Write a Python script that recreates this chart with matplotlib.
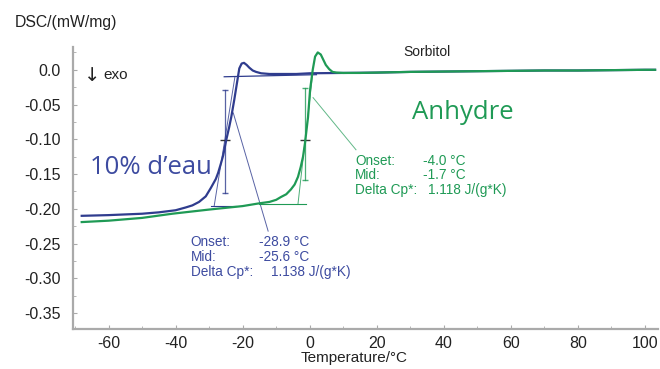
import numpy as np
import matplotlib.pyplot as plt
from matplotlib.ticker import MultipleLocator

plt.rcParams['axes.unicode_minus'] = False

# DSC curves
blue_T = [-68, -60, -50, -45, -40, -37, -35, -33, -31, -29.5, -28, -27.3, -26.5, -25.8,
          -24.9, -24, -23.4, -22.5, -21.6, -21, -20.3, -19.6, -18.8, -18, -17, -16,
          -14.5, -12, -8, -4, 0, 10, 20, 30, 40, 50, 60, 70, 80, 90, 100, 103]
blue_dsc = [-0.210, -0.209, -0.207, -0.205, -0.202, -0.198, -0.195, -0.190, -0.182, -0.170,
            -0.157, -0.148, -0.135, -0.123, -0.101, -0.082, -0.068, -0.043, -0.016, 0.002,
            0.009, 0.010, 0.007, 0.003, -0.001, -0.003, -0.005, -0.006, -0.006, -0.006,
            -0.005, -0.0045, -0.004, -0.003, -0.0025, -0.002, -0.0015, -0.001, -0.001,
            -0.0005, 0.0, 0.0]

green_T = [-68, -60, -50, -41, -30, -20, -15, -12, -10, -8.6, -7, -5.6, -4.5, -3.5, -2.7,
           -2.0, -1.4, -0.5, 0.1, 0.9, 1.6, 2.4, 3.3, 4.0, 4.8, 5.8, 6.8, 8, 10, 15, 20,
           30, 40, 50, 60, 70, 80, 90, 100, 103]
green_dsc = [-0.219, -0.217, -0.213, -0.207, -0.201, -0.196, -0.192, -0.190, -0.187, -0.183,
             -0.179, -0.172, -0.165, -0.154, -0.140, -0.125, -0.105, -0.068, -0.029, 0.000,
             0.019, 0.025, 0.022, 0.015, 0.007, 0.001, -0.003, -0.004, -0.0045, -0.0045,
             -0.004, -0.003, -0.0025, -0.002, -0.0015, -0.001, -0.001, -0.0005, 0.0, 0.0]

# glass transition evaluation (onset, mid, delta cp)
blue_eval = ["-28.9 °C", "-25.6 °C", "1.138 J/(g*K)"]
green_eval = ["-4.0 °C", "-1.7 °C", "1.118 J/(g*K)"]
eval_names = ["Onset:", "Mid:", "Delta Cp*:"]

c_blue = '#2f3c8e'
c_blue_txt = '#3d4ba0'
c_green = '#1f9a55'
c_grey = '#aaaaaa'
c_txt = '#222222'

fig = plt.figure(figsize=(6.6, 3.69), dpi=100)
ax = fig.add_axes([0.1106, 0.108, 0.886, 0.765])

ax.plot(blue_T, blue_dsc, color=c_blue, lw=1.6, zorder=3)
ax.plot(green_T, green_dsc, color=c_green, lw=1.6, zorder=3)

# construction lines, blue
ax.plot([-25.5, 2], [-0.010, -0.007], color=c_blue, lw=0.9)
ax.plot([-29.3, -22.0], [-0.196, -0.196], color=c_blue, lw=0.8)
ax.plot([-28.5, -22.3], [-0.196, -0.010], color=c_blue, lw=0.7, alpha=0.8)
ax.plot([-25.2, -25.2], [-0.029, -0.177], color=c_blue, lw=0.9, alpha=0.8,
        marker='_', markersize=5)
ax.plot([-25.2], [-0.101], color='#333333', marker='_', markersize=7, mew=1)
ax.plot([-22.8, -12.4], [-0.062, -0.232], color=c_blue, lw=0.7, alpha=0.8)

# construction lines, green
ax.plot([-15.2, -1.1], [-0.193, -0.193], color=c_green, lw=0.8)
ax.plot([-3.5, 0.9], [-0.193, -0.005], color=c_green, lw=0.7, alpha=0.8)
ax.plot([-1.4, -1.4], [-0.026, -0.158], color=c_green, lw=0.9, alpha=0.8,
        marker='_', markersize=5)
ax.plot([-1.4], [-0.101], color='#333333', marker='_', markersize=7, mew=1)
ax.plot([1.0, 13.8], [-0.040, -0.115], color=c_green, lw=0.7, alpha=0.7)

ax.set_xlim(-70.6, 103.8)
ax.set_ylim(-0.373, 0.033)
ax.xaxis.set_major_locator(MultipleLocator(20))
ax.xaxis.set_minor_locator(MultipleLocator(10))
ax.yaxis.set_minor_locator(MultipleLocator(0.025))
yt = np.arange(-0.35, 0.01, 0.05)
ax.set_yticks(yt)
ax.set_yticklabels([f"{v:.2f}" if abs(v) > 1e-9 else "0.0" for v in yt])

for s in ['top', 'right']:
    ax.spines[s].set_visible(False)
for s in ['left', 'bottom']:
    ax.spines[s].set_color(c_grey)
    ax.spines[s].set_linewidth(1.6)
ax.tick_params(which='both', direction='in', color=c_grey, labelcolor=c_txt,
               labelsize=11.5)
ax.tick_params(which='major', length=3)
ax.tick_params(which='minor', length=2)
ax.tick_params(axis='y', pad=9)
ax.tick_params(axis='x', pad=5)
for lab in ax.get_xticklabels() + ax.get_yticklabels():
    lab.set_family('Liberation Sans')

sans = 'Liberation Sans'
fig.text(0.022, 0.94, "DSC/(mW/mg)", fontsize=11.3, family=sans, color=c_txt, va='center')
ax.text(-67.3, -0.0085, "↓", fontsize=14, family='DejaVu Sans', color=c_txt, va='center')
ax.text(-61.5, -0.0075, "exo", fontsize=11, family=sans, color=c_txt, va='center')
ax.text(35, 0.0255, "Sorbitol", fontsize=10, family=sans, color=c_txt, ha='center', va='center')
fig.text(0.537, 0.03, "Temperature/°C", fontsize=11, family=sans, color=c_txt,
         ha='center', va='center')

ax.text(-65.5, -0.140, "10% d’eau", fontsize=18.5, family='Open Sans', color=c_blue_txt,
        va='center')
ax.text(30.5, -0.061, "Anhydre", fontsize=18.5, family='Open Sans', color=c_green,
        va='center')

# evaluation text blocks
bx_name, bx_val = -35.5, -15.0
for i, (n, v) in enumerate(zip(eval_names, blue_eval)):
    y = -0.2475 - i * 0.0215
    ax.text(bx_name, y, n, fontsize=9.8, family=sans, color=c_blue_txt, va='center')
    ax.text(bx_val if i < 2 else -11.5, y, v, fontsize=9.8, family=sans, color=c_blue_txt,
            va='center')
gx_name, gx_val = 13.6, 33.8
for i, (n, v) in enumerate(zip(eval_names, green_eval)):
    y = -0.1305 - i * 0.0215
    ax.text(gx_name, y, n, fontsize=9.8, family=sans, color=c_green, va='center')
    ax.text(gx_val if i < 2 else 35.3, y, v, fontsize=9.8, family=sans, color=c_green,
            va='center')

fig.savefig("out.png", dpi=100)
